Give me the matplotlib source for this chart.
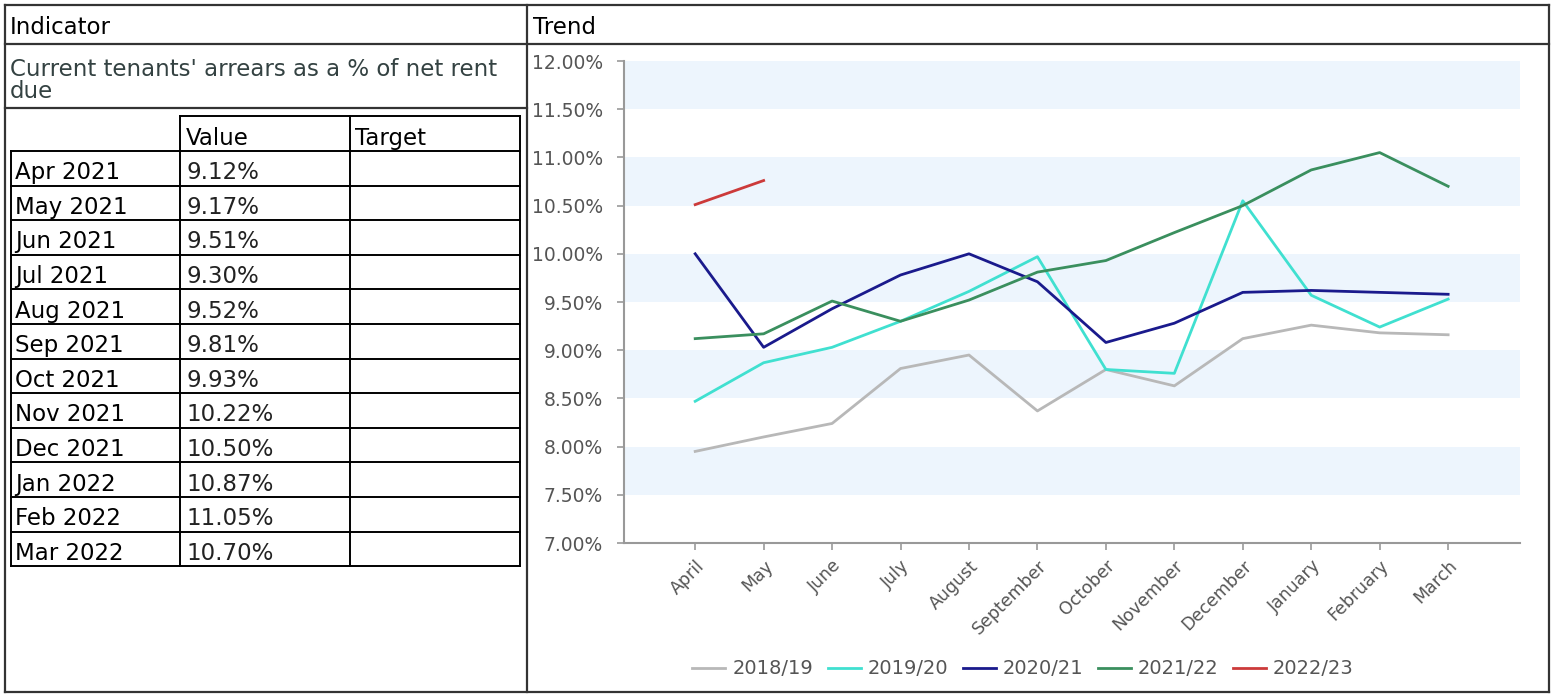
import numpy as np
import matplotlib.pyplot as plt

# chart data
months = ['April', 'May', 'June', 'July', 'August', 'September', 'October',
          'November', 'December', 'January', 'February', 'March']
s_2018_19 = [7.95, 8.10, 8.24, 8.81, 8.95, 8.37, 8.80, 8.63, 9.12, 9.26, 9.18, 9.16]
s_2019_20 = [8.47, 8.87, 9.03, 9.30, 9.61, 9.97, 8.80, 8.76, 10.55, 9.57, 9.24, 9.53]
s_2020_21 = [10.00, 9.03, 9.43, 9.78, 10.00, 9.71, 9.08, 9.28, 9.60, 9.62, 9.60, 9.58]
s_2021_22 = [9.12, 9.17, 9.51, 9.30, 9.52, 9.81, 9.93, 10.22, 10.50, 10.87, 11.05, 10.70]
s_2022_23 = [10.51, 10.76]
series_names = ['2018/19', '2019/20', '2020/21', '2021/22', '2022/23']
series_colors = ['#b8b8b8', '#40e0d0', '#1a1a8c', '#3a8f5e', '#cc3a3a']

# table data
table_months = ['Apr 2021', 'May 2021', 'Jun 2021', 'Jul 2021', 'Aug 2021', 'Sep 2021',
                'Oct 2021', 'Nov 2021', 'Dec 2021', 'Jan 2022', 'Feb 2022', 'Mar 2022']
table_values = ['9.12%', '9.17%', '9.51%', '9.30%', '9.52%', '9.81%',
                '9.93%', '10.22%', '10.50%', '10.87%', '11.05%', '10.70%']
indicator_lines = ["Current tenants' arrears as a % of net rent", 'due']

W, H = 1551, 694
fig = plt.figure(figsize=(W / 100, H / 100), dpi=100)

# frame axes in pixel coordinates for the table layout
frame = fig.add_axes([0, 0, 1, 1])
frame.set_xlim(0, W)
frame.set_ylim(H, 0)
frame.axis('off')

def seg(x0, y0, x1, y1, color='#333333', lw=1.6):
    frame.plot([x0, x1], [y0, y1], color=color, lw=lw, solid_capstyle='projecting')

# outer grid
seg(5, 5, 1549, 5)
seg(5, 692, 1549, 692)
seg(5, 5, 5, 692)
seg(1549, 5, 1549, 692)
seg(5, 44, 1549, 44)
seg(527, 5, 527, 692)
seg(5, 108, 527, 108)

frame.text(10, 34, 'Indicator', fontsize=16.5, color='black')
frame.text(533, 34, 'Trend', fontsize=16.5, color='black')
for k, line in enumerate(indicator_lines):
    frame.text(10, 76 + 22 * k, line, fontsize=16.5, color='#344242')

# inner table
cols = [11, 180, 350, 520]
top = 116
head_bot = 151
row_h = 34.6
n = len(table_months)
bottom = head_bot + n * row_h
seg(cols[1], top, cols[3], top, color='black', lw=1.4)
for c in cols[1:]:
    seg(c, top, c, bottom, color='black', lw=1.4)
seg(cols[0], head_bot, cols[0], bottom, color='black', lw=1.4)
for i in range(n + 1):
    y = head_bot + i * row_h
    seg(cols[0], y, cols[3], y, color='black', lw=1.4)

frame.text(cols[1] + 6, head_bot - 6, 'Value', fontsize=16.5, color='black')
frame.text(cols[2] + 5, head_bot - 6, 'Target', fontsize=16.5, color='black')
for i in range(n):
    yb = head_bot + (i + 1) * row_h - 6.5
    frame.text(cols[0] + 4, yb, table_months[i], fontsize=16.5, color='black')
    frame.text(cols[1] + 6, yb, table_values[i], fontsize=16.5, color='#222222')

# trend chart
ax = fig.add_axes([624 / W, (H - 543) / H, (1520 - 624) / W, (543 - 61) / H])
ax.set_xlim(-1.04, 12.05)
ax.set_ylim(7, 12)
for lo in [7.5, 8.5, 9.5, 10.5, 11.5]:
    ax.axhspan(lo, lo + 0.5, color='#edf5fd', lw=0, zorder=0)

x = np.arange(len(months))
all_series = [s_2018_19, s_2019_20, s_2020_21, s_2021_22, s_2022_23]
for vals, name, col in zip(all_series, series_names, series_colors):
    ax.plot(x[:len(vals)], vals, color=col, lw=2, label=name, zorder=3)

ax.set_yticks(np.arange(7, 12.01, 0.5))
ax.set_yticklabels(['{:.2f}%'.format(v) for v in np.arange(7, 12.01, 0.5)])
ax.set_xticks(x)
ax.set_xticklabels(months, rotation=45, ha='right', va='top',
                   rotation_mode='anchor')
ax.tick_params(axis='y', labelsize=13.5, labelcolor='#555555', color='#999999',
               length=5, width=1.2, pad=10)
ax.tick_params(axis='x', labelsize=12.5, labelcolor='#555555', color='#999999',
               length=5, width=1.2, pad=5)
for s in ['top', 'right']:
    ax.spines[s].set_visible(False)
for s in ['left', 'bottom']:
    ax.spines[s].set_color('#999999')
    ax.spines[s].set_linewidth(1.5)
ax.set_facecolor('none')

leg = ax.legend(loc='center', bbox_to_anchor=(1023 / W, (H - 669) / H),
                bbox_transform=fig.transFigure, ncol=5, frameon=False,
                fontsize=14, handlelength=1.7, handletextpad=0.35,
                columnspacing=0.75)
for t in leg.get_texts():
    t.set_color('#555555')

fig.savefig('out.png', dpi=100)
